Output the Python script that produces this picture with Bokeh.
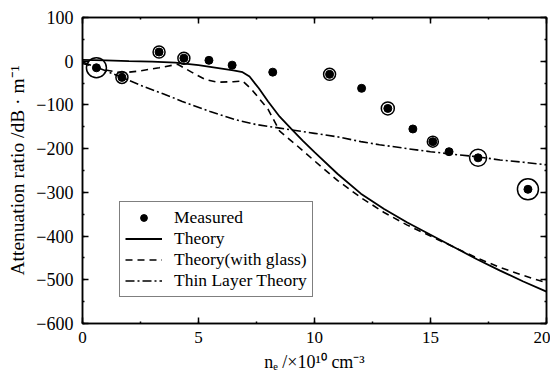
from bokeh.plotting import figure
from bokeh.models import (LinearAxis, Legend, LegendItem, Range1d, SingleIntervalTicker,
                          CustomJSTickFormatter)
from bokeh.embed import file_html
from bokeh.resources import INLINE

# ---- data ----
measured_x = [0.6, 1.7, 3.3, 4.37, 5.45, 6.45, 8.2, 10.65, 12.03, 13.16, 14.24, 15.1, 15.8, 17.05, 19.2]
measured_y = [-15, -37, 21, 7, 2, -9, -25, -30, -62, -108, -155, -184, -207, -221, -293]

theory_x = [0, 1, 2, 3, 4, 5, 6, 6.5, 6.9, 7.2, 7.6, 8, 8.5, 9, 9.5, 10, 11, 12, 13, 14, 15, 16, 17, 18, 19, 20]
theory_y = [3, 2, 0, -1, -3, -9, -17, -21, -25, -35, -62, -92, -127, -155, -182, -208, -258, -303, -338, -369, -397, -425, -453, -479, -504, -527]

glass_x = [0, 0.5, 1, 1.7, 2.5, 3.3, 4.1, 4.7, 5.3, 5.8, 6.5, 6.9, 7.3, 8, 8.5, 9.2, 10, 11, 12, 13, 14, 15, 16, 17, 18, 19, 20]
glass_y = [-5, -12, -20, -27, -22, -15, -7, -25, -42, -48, -47, -45, -65, -110, -160, -191, -228, -273, -312, -346, -375, -400, -425, -450, -472, -490, -507]

thin_x = [0, 1, 1.7, 2.5, 3.5, 4.3, 5.5, 6.6, 7.5, 8.5, 10, 11, 12, 12.8, 14, 15, 16, 17.1, 18, 19, 20]
thin_y = [-2, -22, -37, -55, -75, -92, -115, -134, -145, -153, -165, -173, -184, -191, -200, -207, -213, -219, -226, -231, -237]

x_ticks = [0, 5, 10, 15, 20]
y_ticks = [-600, -500, -400, -300, -200, -100, 0, 100]

# ring drawn around some measured points (style only, pixel diameters; 0 = none)
ring_size = [20, 12, 12, 12, 0, 0, 0, 12, 0, 13, 0, 11, 0, 17, 21]

FONT = "Liberation Serif"

p = figure(frame_width=464, frame_height=306, output_backend="svg", toolbar_location=None,
           x_range=Range1d(0, 20), y_range=Range1d(-600, 100),
           min_border_left=82, min_border_right=4, min_border_top=17, min_border_bottom=4)
p.xgrid.visible = False
p.ygrid.visible = False
p.outline_line_color = "black"
p.outline_line_width = 1.5
p.background_fill_color = "white"
p.border_fill_color = "white"

def style_axis(ax, labels=True):
    ax.axis_line_color = "black"
    ax.axis_line_width = 1.5
    ax.major_tick_in = 6
    ax.major_tick_out = 0
    ax.minor_tick_in = 2
    ax.minor_tick_out = 0
    ax.major_tick_line_width = 1.5
    ax.minor_tick_line_width = 1.5
    ax.major_label_text_font = FONT
    ax.major_label_text_font_size = "18px"
    ax.major_label_text_color = "black"
    if not labels:
        ax.formatter = CustomJSTickFormatter(code="return ''")
        ax.major_label_standoff = 0

p.xaxis.ticker = SingleIntervalTicker(interval=5, num_minor_ticks=2)
p.yaxis.ticker = SingleIntervalTicker(interval=100, num_minor_ticks=2)
style_axis(p.xaxis[0])
style_axis(p.yaxis[0])
p.xaxis.major_label_text_font_size = "17px"
p.xaxis.major_label_standoff = 8
p.yaxis.major_label_standoff = 9
p.xaxis.axis_label = "nₑ /×10¹⁰ cm⁻³"
p.yaxis.axis_label = "Attenuation ratio /dB · m⁻¹"
for ax in (p.xaxis[0], p.yaxis[0]):
    ax.axis_label_text_font = FONT
    ax.axis_label_text_color = "black"
    ax.axis_label_text_font_style = "normal"
p.yaxis.axis_label_text_font_size = "19.5px"
p.yaxis.axis_label_standoff = 5
p.xaxis.axis_label_text_font_size = "18px"
p.xaxis.axis_label_standoff = 6

top_ax = LinearAxis(ticker=SingleIntervalTicker(interval=5, num_minor_ticks=2))
right_ax = LinearAxis(ticker=SingleIntervalTicker(interval=100, num_minor_ticks=2))
style_axis(top_ax, labels=False)
style_axis(right_ax, labels=False)
p.add_layout(top_ax, "above")
p.add_layout(right_ax, "right")

r_thin = p.line(thin_x, thin_y, line_color="black", line_width=1.6, line_dash="9 3 2 3")
r_glass = p.line(glass_x, glass_y, line_color="black", line_width=1.6, line_dash="7 5")
r_theory = p.line(theory_x, theory_y, line_color="black", line_width=1.8)

r_meas = p.scatter(measured_x, measured_y, size=8, marker="circle",
                   fill_color="black", line_color="black")
ring_x = [x for x, s in zip(measured_x, ring_size) if s > 0]
ring_y = [y for y, s in zip(measured_y, ring_size) if s > 0]
ring_s = [s for s in ring_size if s > 0]
p.scatter(ring_x, ring_y, size=ring_s, marker="circle", fill_color=None,
          line_color="black", line_width=1.5)

legend = Legend(items=[
    LegendItem(label="Measured", renderers=[r_meas]),
    LegendItem(label="Theory", renderers=[r_theory]),
    LegendItem(label="Theory(with glass)", renderers=[r_glass]),
    LegendItem(label="Thin Layer Theory", renderers=[r_thin]),
], location=(37, 26))
legend.label_text_font = FONT
legend.label_text_font_size = "17.5px"
legend.label_text_color = "black"
legend.border_line_color = "black"
legend.border_line_width = 1
legend.glyph_width = 37
legend.glyph_height = 17
legend.label_height = 17
legend.spacing = 0
legend.padding = 5
legend.margin = 0
legend.label_standoff = 12
legend.background_fill_alpha = 1
p.add_layout(legend, "center")

open("out.html", "w").write(file_html(p, INLINE))
